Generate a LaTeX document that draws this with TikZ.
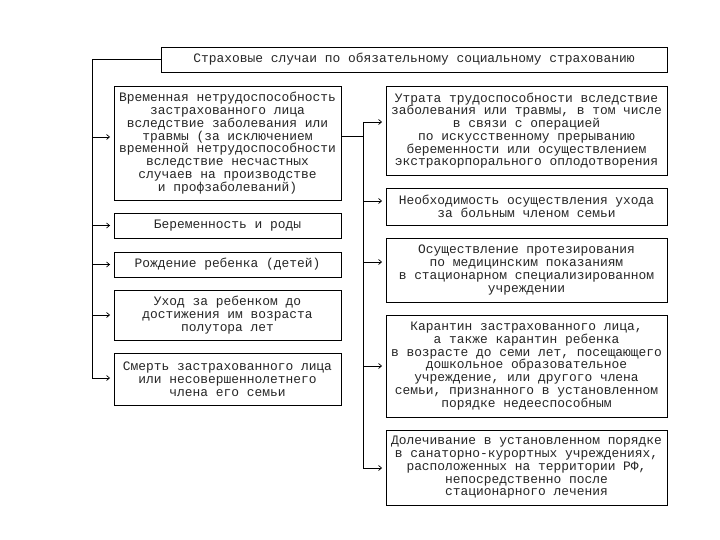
\documentclass[tikz,border=0pt]{standalone}
\usepackage{fontspec}
\setmainfont{Liberation Mono}
\usetikzlibrary{arrows.meta}
\begin{document}
\begin{tikzpicture}[x=1pt,y=-1pt,
  box/.style={draw=black, line width=0.9pt, rectangle, inner sep=1pt, align=center,
    font=\fontsize{12.9}{12.75}\selectfont, text=black!85},
  conn/.style={draw=black, line width=0.8pt},
  arr/.style={conn, -{Straight Barb[length=3pt,width=5pt,line width=0.7pt]}, shorten >=3.5pt}]
\useasboundingbox[fill=white] (0,0) rectangle (720,540);

\node[box, minimum width=506pt, minimum height=25pt] (T) at (414,59.5)
  {Страховые случаи по обязательному социальному страхованию};

% left column
\node[box, minimum width=227pt, minimum height=114pt] (L1) at (227.5,143)
  {Временная нетрудоспособность\\застрахованного лица\\вследствие заболевания или\\травмы (за исключением\\временной нетрудоспособности\\вследствие несчастных\\случаев на производстве\\и профзаболеваний)};
\node[box, minimum width=227pt, minimum height=25pt] (L2) at (227.5,225.5)
  {Беременность и роды};
\node[box, minimum width=227pt, minimum height=25pt] (L3) at (227.5,264.5)
  {Рождение ребенка (детей)};
\node[box, minimum width=227pt, minimum height=50pt] (L4) at (227.5,315)
  {Уход за ребенком до\\достижения им возраста\\полутора лет};
\node[box, minimum width=227pt, minimum height=52pt] (L5) at (227.5,379)
  {Смерть застрахованного лица\\или несовершеннолетнего\\члена его семьи};

% right column
\node[box, minimum width=281pt, minimum height=89pt] (R1) at (526.5,130.5)
  {Утрата трудоспособности вследствие\\заболевания или травмы, в том числе\\в связи с операцией\\по искусственному прерыванию\\беременности или осуществлением\\экстракорпорального оплодотворения};
\node[box, minimum width=281pt, minimum height=37pt] (R2) at (526.5,206.5)
  {Необходимость осуществления ухода\\за больным членом семьи};
\node[box, minimum width=281pt, minimum height=64pt] (R3) at (526.5,270)
  {Осуществление протезирования\\по медицинским показаниям\\в стационарном специализированном\\учреждении};
\node[box, minimum width=281pt, minimum height=102pt] (R4) at (526.5,366)
  {Карантин застрахованного лица,\\а также карантин ребенка\\в возрасте до семи лет, посещающего\\дошкольное образовательное\\учреждение, или другого члена\\семьи, признанного в установленном\\порядке недееспособным};
\node[box, minimum width=281pt, minimum height=75pt] (R5) at (526.5,467.5)
  {Долечивание в установленном порядке\\в санаторно-курортных учреждениях,\\расположенных на территории РФ,\\непосредственно после\\стационарного лечения};

% left trunk
\coordinate (lt) at (92,59.5);
\coordinate (lb) at (92,378);
\coordinate (la1) at (92,137);
\draw[conn] (T.west) -- (lt) -- (lb);
\draw[arr] (la1) -- (L1.west |- la1);
\draw[arr] (lt |- L2.west) -- (L2.west);
\draw[arr] (lt |- L3.west) -- (L3.west);
\draw[arr] (lt |- L4.west) -- (L4.west);
\draw[arr] (lb) -- (L5.west |- lb);

% right trunk
\coordinate (rt) at (363,122);
\coordinate (rb) at (363,468);
\coordinate (rj) at (363,136);
\coordinate (ra2) at (363,201);
\coordinate (ra3) at (363,262);
\draw[conn] (L1.east |- rj) -- (rj);
\draw[conn] (rt) -- (rb);
\draw[arr] (rt) -- (R1.west |- rt);
\draw[arr] (ra2) -- (R2.west |- ra2);
\draw[arr] (ra3) -- (R3.west |- ra3);
\draw[arr] (rt |- R4.west) -- (R4.west);
\draw[arr] (rb) -- (R5.west |- rb);
\end{tikzpicture}
\end{document}
